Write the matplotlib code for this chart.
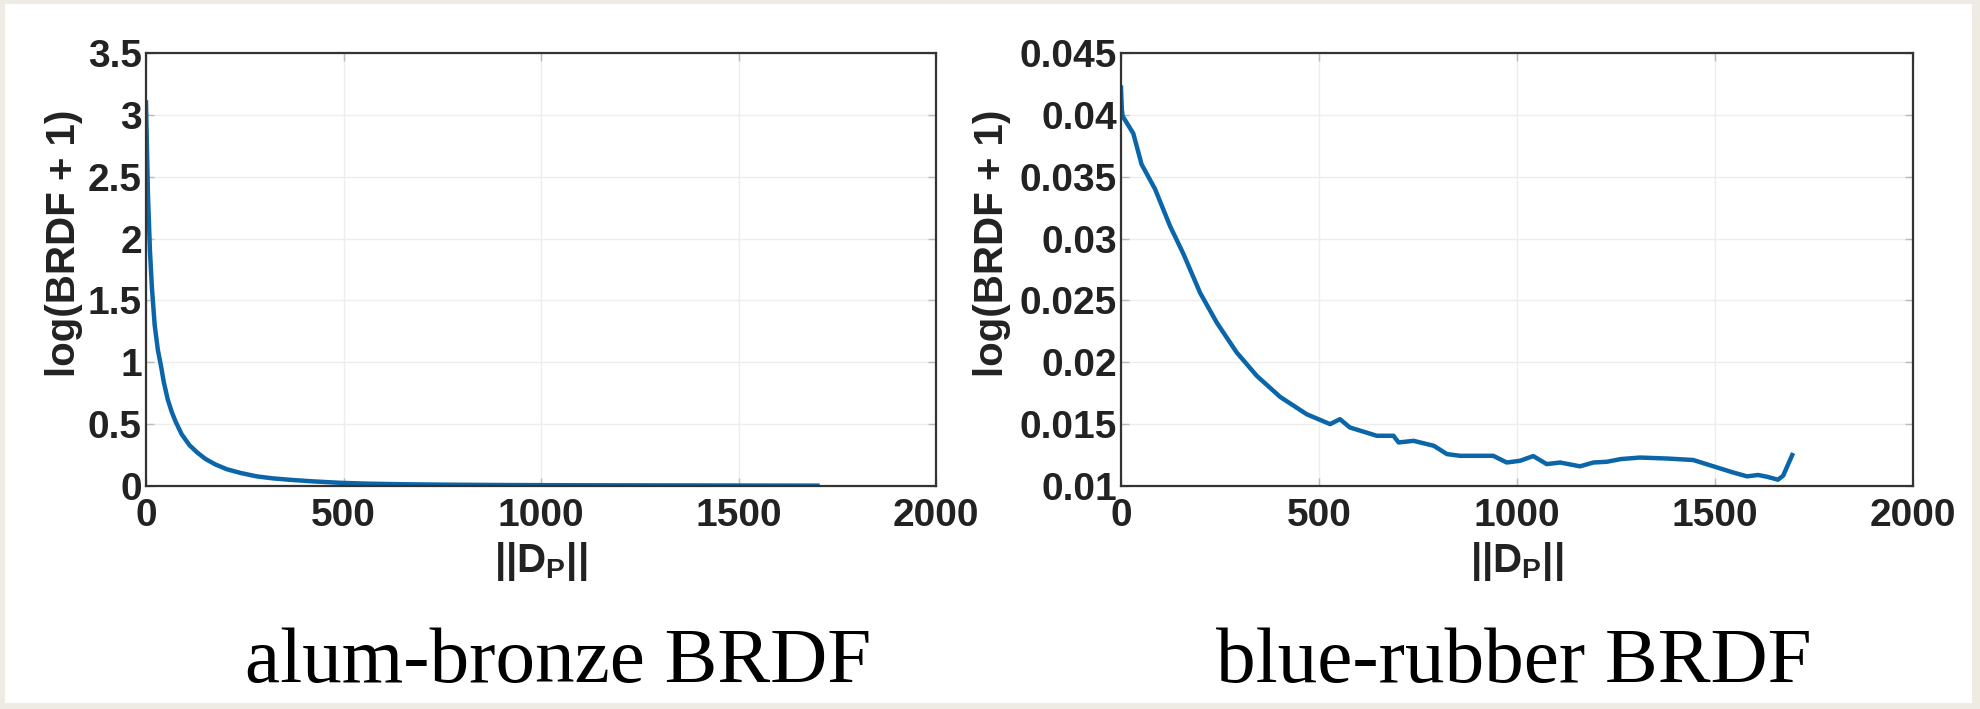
import numpy as np
import matplotlib.pyplot as plt
from matplotlib.patches import Rectangle

plt.rcParams['font.family'] = ['Liberation Sans', 'DejaVu Sans']
plt.rcParams['mathtext.fontset'] = 'custom'
plt.rcParams['mathtext.bf'] = 'Liberation Sans:bold'
plt.rcParams['mathtext.rm'] = 'Liberation Sans:bold'

## courbes BRDF
dp_alum = [0, 2, 5, 10, 15, 22, 30, 38, 45, 55, 65, 75, 90, 110, 130, 150, 175,
           205, 240, 280, 320, 365, 420, 490, 560, 650, 750, 900, 1100, 1300, 1500, 1700]
brdf_alum = [3.1, 2.8, 2.35, 1.9, 1.6, 1.3, 1.1, 0.97, 0.84, 0.70, 0.60, 0.52, 0.42,
             0.33, 0.27, 0.22, 0.175, 0.135, 0.105, 0.078, 0.062, 0.05, 0.038, 0.026,
             0.019, 0.014, 0.011, 0.008, 0.006, 0.005, 0.004, 0.003]

dp_rubber = [0, 2, 4, 31, 52, 86, 124, 157, 200, 242, 292, 343, 402, 469, 528, 553,
             578, 646, 688, 701, 739, 790, 823, 856, 940, 974, 1008, 1041, 1075, 1109,
             1159, 1193, 1227, 1263, 1311, 1380, 1445, 1505, 1545, 1581, 1609, 1631,
             1659, 1672, 1695]
brdf_rubber = [0.0422, 0.0405, 0.0399, 0.0385, 0.0360, 0.0340, 0.0310, 0.0288, 0.0256,
               0.0232, 0.0208, 0.0189, 0.0172, 0.0158, 0.0150, 0.0154, 0.01473, 0.01406,
               0.01406, 0.01352, 0.01365, 0.01325, 0.01258, 0.01244, 0.01244, 0.0119,
               0.01204, 0.01242, 0.01177, 0.0119, 0.01159, 0.0119, 0.01196, 0.01218,
               0.01230, 0.01222, 0.0121, 0.0115, 0.0111, 0.01078, 0.01089, 0.01075,
               0.01051, 0.01083, 0.0125]

titres = ["alum-bronze BRDF", "blue-rubber BRDF"]
ylims = [(0, 3.5), (0.01, 0.045)]
yticks = [np.arange(0, 3.51, 0.5), np.arange(0.01, 0.0451, 0.005)]
ytick_labels = [["0", "0.5", "1", "1.5", "2", "2.5", "3", "3.5"],
                ["0.01", "0.015", "0.02", "0.025", "0.03", "0.035", "0.04", "0.045"]]
xticks = [0, 500, 1000, 1500, 2000]

bleu = '#0a66a8'
W, H = 1980, 709

fig = plt.figure(figsize=(W / 100, H / 100), dpi=100)
fig.patch.set_facecolor('#eeebe4')
# cadre blanc sous les deux graphes
fig.patches.append(Rectangle((5 / W, 6 / H), 1967 / W, 699 / H, transform=fig.transFigure,
                             facecolor='white', edgecolor='none', zorder=-5))

boites = [(146, 790), (1121, 792)]
ylab_x = [-0.080, -0.139]
titre_x = [558, 1514]
donnees = [(dp_alum, brdf_alum), (dp_rubber, brdf_rubber)]

for i in range(2):
    x0, w = boites[i]
    ax = fig.add_axes([x0 / W, 1 - 486 / H, w / W, 433 / H])
    ax.set_zorder(2)
    X, Y = donnees[i]
    ax.plot(X, Y, color=bleu, lw=3.2, solid_joinstyle='round')
    ax.set_xlim(0, 2000)
    ax.set_ylim(*ylims[i])
    ax.set_xticks(xticks)
    ax.set_xticklabels([str(t) for t in xticks])
    ax.set_yticks(yticks[i])
    ax.set_yticklabels(ytick_labels[i])
    ax.grid(True, color='#ededed', lw=1)
    ax.set_axisbelow(True)
    for s in ax.spines.values():
        s.set_color('#333333')
        s.set_linewidth(1.6)
    ax.tick_params(direction='in', length=6, width=1, color='#bbbbbb',
                   top=True, right=True, labelsize=28, pad=3)
    ax.tick_params(axis='x', pad=9)
    for lab in ax.get_xticklabels() + ax.get_yticklabels():
        lab.set_fontweight('bold')
        lab.set_color('#222222')
    ax.set_ylabel("log(BRDF + 1)", fontsize=29, fontweight='bold', color='#222222')
    ax.yaxis.set_label_coords(ylab_x[i], 0.56)
    ax.set_xlabel(r'$\mathbf{||D_P||}$', fontsize=29, color='#222222')
    ax.xaxis.set_label_coords(0.5, -0.125)
    fig.text(titre_x[i] / W, 1 - 682 / H, titres[i], family='Liberation Serif',
             fontsize=57, ha='center', va='baseline', color='black', zorder=3)

fig.savefig('out.png', dpi=100, facecolor=fig.get_facecolor())
